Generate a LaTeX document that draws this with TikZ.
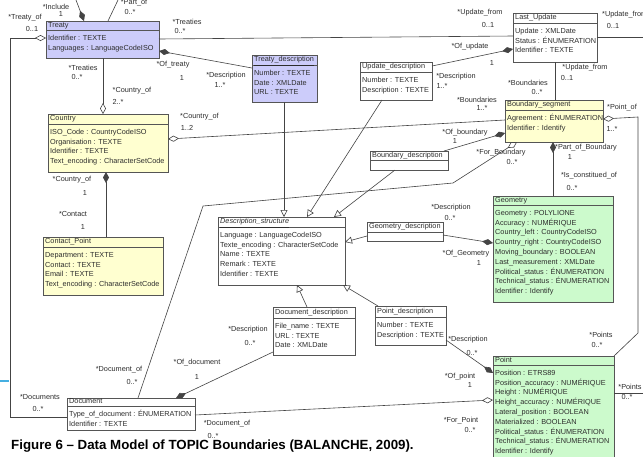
\documentclass[tikz,border=0pt]{standalone}
\usepackage{fontspec}
\setmainfont{Liberation Sans}
\usetikzlibrary{arrows.meta,calc}
\definecolor{lav}{RGB}{204,204,250}
\definecolor{ylw}{RGB}{255,255,208}
\definecolor{grn}{RGB}{204,250,204}
\definecolor{edgec}{RGB}{85,85,85}
\definecolor{ink}{RGB}{45,45,45}
\definecolor{capblue}{RGB}{70,175,225}
\newcommand{\umlbox}[9]{%
  \node[clsbox, fill=#7, minimum width={#4-#2}, minimum height={#5-#3}] (#1) at (#2,#3) {};
  \draw[hdrline] (#2,#6) -- (#4,#6);
  \node[clstitle] (#1-t) at (#2+2,{(#3+#6)/2}) {#8};
  \node[clsattr] (#1-a) at (#2+2,#6+3.2) {\begin{tabular}{@{}l@{}}#9\end{tabular}};
}
\tikzset{
  txt/.style={font=\fontsize{7.3}{9.8}\selectfont, text=ink, inner sep=0pt},
  clsbox/.style={draw=edgec, line width=0.6pt, anchor=north west, inner sep=0pt, outer sep=0pt},
  hdrline/.style={draw=edgec, line width=0.6pt},
  clstitle/.style={txt, anchor=west, text height=5.2pt, text depth=1.5pt},
  clsattr/.style={txt, anchor=north west},
  lbl/.style={txt},
  conn/.style={draw=edgec!80!black, line width=0.6pt},
  comp/.style={conn, -{Diamond[length=11pt,width=6pt,fill=edgec!80!black]}},
  agg/.style={conn, -{Diamond[open,length=11pt,width=6pt]}},
  gen/.style={conn, -{Triangle[open,length=7pt,width=7pt]}},
}
\begin{document}
\begin{tikzpicture}[x=1pt,y=-1pt]
\useasboundingbox (0,0) rectangle (643,456);
\fill[white] (0,0) rectangle (643,456);

% classes
\umlbox{treaty}{46}{21}{159}{58}{30}{lav}{Treaty}{Identifier : TEXTE\\Languages : LanguageCodeISO}
\umlbox{tdesc}{252}{55}{317}{102}{65}{lav}{\underline{Treaty\_description}}{Number : TEXTE\\Date : XMLDate\\URL : TEXTE}
\umlbox{udesc}{360}{62}{432}{100}{72}{white}{Update\_description}{Number : TEXTE\\Description : TEXTE}
\umlbox{lastupd}{513}{13}{597}{62}{23}{white}{Last\_Update}{Update : XMLDate\\Status : ÉNUMERATION\\Identifier : TEXTE}
\umlbox{bseg}{505}{100}{603}{142}{110}{ylw}{Boundary\_segment}{Agreement : ÉNUMERATION\\Identifier : Identify}
\umlbox{country}{48}{114}{168}{172}{124}{ylw}{Country}{ISO\_Code : CountryCodeISO\\Organisation : TEXTE\\Identifier : TEXTE\\Text\_encoding : CharacterSetCode}
\umlbox{contact}{43}{237}{163}{295}{247}{ylw}{Contact\_Point}{Department : TEXTE\\Contact : TEXTE\\Email : TEXTE\\Text\_encoding : CharacterSetCode}
\umlbox{dstruct}{218}{217}{345}{285}{227}{white}{\underline{\textit{Description\_structure}}}{Language : LanguageCodeISO\\Texte\_encoding : CharacterSetCode\\Name : TEXTE\\Remark : TEXTE\\Identifier : TEXTE}
\umlbox{bdesc}{370}{151}{448}{170}{160}{white}{Boundary\_description}{}
\umlbox{gdesc}{367}{222}{443}{241}{232}{white}{Geometry\_description}{}
\umlbox{geom}{493}{196}{613}{302}{205}{grn}{Geometry}{Geometry : POLYLIONE\\Accuracy : NUMÉRIQUE\\Country\_left : CountryCodeISO\\Country\_right : CountryCodeISO\\Moving\_boundary : BOOLEAN\\Last\_measurement : XMLDate\\Political\_status : ÉNUMERATION\\Technical\_status : ÉNUMERATION\\Identifier : Identify}
\umlbox{ddesc}{273}{307}{355}{355}{318}{white}{Document\_description}{File\_name : TEXTE\\URL : TEXTE\\Date : XMLDate}
\umlbox{pdesc}{375}{306}{446}{345}{317}{white}{Point\_description}{Number : TEXTE\\Description : TEXTE}
\umlbox{document}{67}{398}{195}{430}{406}{white}{Document}{Type\_of\_document : ÉNUMERATION\\Identifier : TEXTE}
\umlbox{point}{493}{356}{614}{460}{365}{grn}{Point}{Position : ETRS89\\Position\_accuracy : NUMÉRIQUE\\Height : NUMÉRIQUE\\Height\_accuracy : NUMÉRIQUE\\Lateral\_position : BOOLEAN\\Materialized : BOOLEAN\\Political\_status : ÉNUMERATION\\Technical\_status : ÉNUMERATION\\Identifier : Identify}

% free ends and waypoints
\coordinate (incEnd) at (76,0);
\coordinate (partEnd) at (118,0);
\coordinate (rail) at (10,0);
\coordinate (eR1) at (643,37);
\coordinate (eR2) at (643,393);
\coordinate (fb1) at (203,206);
\coordinate (fb2) at (453,183);
\coordinate (pr1) at (638,333);
\coordinate (pr2) at (638,117);
\coordinate (docL) at ($(document.north west)+(0,19)$);
\coordinate (trL) at ($(treaty.north west)+(0,17)$);

% connectors
\draw[comp] (incEnd) -- ($(treaty.north west)+(38,0)$);
\draw[conn] ($(treaty.north west)+(62,0)$) -- (partEnd);
\draw[agg] (docL) -- (docL -| rail) -- (trL -| rail) -- (trL);
\draw[conn] ($(treaty.north west)+(113,18)$) -- ($(lastupd.north west)+(0,23)$);
\draw[conn] ($(lastupd.north west)+(84,24)$) -- (eR1);
\draw[agg] ($(treaty.north west)+(57,37)$) -- ($(country.north west)+(55,0)$);
\draw[comp] ($(tdesc.north west)+(0,13)$) -- ($(treaty.north west)+(113,30)$);
\draw[gen] ($(tdesc.north west)+(32,47)$) -- ($(dstruct.north west)+(66,0)$);
\draw[gen] ($(udesc.north west)+(22,38)$) -- ($(dstruct.north west)+(89,0)$);
\draw[gen] ($(bdesc.north west)+(25,19)$) -- ($(dstruct.north west)+(116,0)$);
\draw[comp] ($(udesc.north west)+(72,4)$) -- ($(lastupd.north west)+(0,36)$);
\draw[conn] ($(lastupd.north west)+(42,49)$) -- ($(bseg.north west)+(50,0)$);
\draw[agg] ($(bseg.north west)+(0,20)$) -- ($(country.north west)+(120,25)$);
\draw[comp] ($(bdesc.north west)+(74,0)$) -- ($(bseg.north west)+(0,33)$);
\draw[agg] ($(document.north west)+(71,0)$) -- (fb1) -- (fb2) -- ($(bseg.north west)+(12,42)$);
\draw[comp] ($(geom.north west)+(60,0)$) -- ($(bseg.north west)+(48,42)$);
\draw[comp] ($(gdesc.north west)+(76,13)$) -- ($(geom.north west)+(0,47)$);
\draw[gen] ($(gdesc.north west)+(0,14)$) -- ($(dstruct.north west)+(127,25)$);
\draw[gen] ($(ddesc.north west)+(34,0)$) -- ($(dstruct.north west)+(79,68)$);
\draw[gen] ($(pdesc.north west)+(3,0)$) -- ($(dstruct.north west)+(125,68)$);
\draw[comp] ($(ddesc.north west)+(0,45)$) -- ($(document.north west)+(109,0)$);
\draw[agg] ($(document.north west)+(128,17)$) -- ($(point.north west)+(0,44)$);
\draw[comp] ($(pdesc.north west)+(71,34)$) -- ($(point.north west)+(0,17)$);
\draw[agg] ($(point.north west)+(121,0)$) -- (pr1) -- (pr2) -- ($(bseg.north west)+(98,19)$);
\draw[conn] ($(point.north west)+(121,37)$) -- (eR2);
\draw[comp] ($(contact.north west)+(63,0)$) -- ($(country.north west)+(58,58)$);

% role labels
\foreach \xy/\tx [count=\i] in {
 {(56,7)/*Include}, {(61,14)/1},
 {(134,3)/*Part\_of}, {(130,12)/0..*},
 {(25,18)/*Treaty\_of}, {(32,29)/0..1},
 {(187,22)/*Treaties}, {(180,31)/0..*},
 {(83,68)/*Treaties}, {(77,77)/0..*},
 {(132,91)/*Country\_of}, {(118,102)/2..*},
 {(173,65)/*Of\_treaty}, {(182,78)/1},
 {(226,76)/*Description}, {(220,85)/1..*},
 {(480,13)/*Update\_from}, {(488,25)/0..1},
 {(613,26)/0..1},
 {(470,47)/*Of\_update}, {(492,63)/1},
 {(456,77)/*Description}, {(442,86)/1..*},
 {(585,68)/*Update\_from}, {(567,78)/0..1},
 {(528,83)/*Boundaries}, {(537,92)/0..*},
 {(477,100)/*Boundaries}, {(482,108)/1..*},
 {(612,129)/1..*},
 {(187,128)/1..2},
 {(465,133)/*Of\_boundary}, {(455,141)/1},
 {(501,153)/*For\_Boundary}, {(512,162)/0..*},
 {(586,148)/*Part\_of\_Boundary}, {(570,157)/1},
 {(589,176)/*Is\_constitued\_of}, {(572,188)/0..*},
 {(451,208)/*Description}, {(450,218)/0..*},
 {(466,254)/*Of\_Geometry}, {(479,263)/1},
 {(72,180)/*Country\_of}, {(85,193)/1},
 {(73,214)/*Contact}, {(83,227)/1},
 {(248,330)/*Description}, {(250,343)/0..*},
 {(197,363)/*Of\_document}, {(197,377)/1},
 {(119,370)/*Document\_of}, {(132,382)/0..*},
 {(40,397)/*Documents}, {(38,409)/0..*},
 {(227,424)/*Document\_of}, {(213,436)/0..*},
 {(468,340)/*Description}, {(472,353)/0..*},
 {(460,377)/*Of\_point}, {(470,385)/1},
 {(461,421)/*For\_Point}, {(470,430)/0..*},
 {(601,335)/*Points}, {(597,345)/0..*},
 {(630,387)/*Points}, {(627,397)/0..*}}
 { \node[lbl] (lab\i) at \xy {\tx}; }
\node[lbl, anchor=west] (labUF) at (602,15) {*Update\_from};
\node[lbl, anchor=west] (labPO) at (607,108) {*Point\_of};
\node[lbl, anchor=west] (labCO) at (180,117) {*Country\_of};

% stray mark at left edge
\draw[capblue, line width=1.6pt] (0,381) -- (9,381);

% caption
\node[anchor=base west, inner sep=0pt, font=\fontsize{13.3}{16}\selectfont\bfseries] (caption) at (11,449) {Figure 6 – Data Model of TOPIC Boundaries (BALANCHE, 2009).};
\end{tikzpicture}
\end{document}
